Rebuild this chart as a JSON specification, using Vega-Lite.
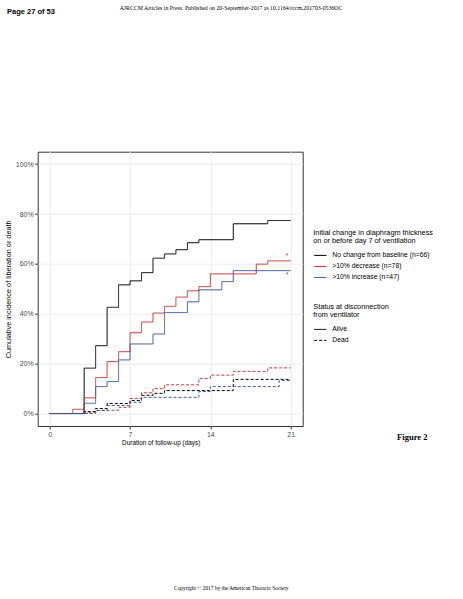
{
  "$schema": "https://vega.github.io/schema/vega-lite/v6.json",
  "width": 265,
  "height": 274.3,
  "autosize": "none",
  "padding": {"left": 37.7, "top": 151.7, "right": 160.3, "bottom": 173},
  "background": "white",
  "config": {
    "font": "Liberation Sans",
    "view": {"stroke": "#333333", "strokeWidth": 1}
  },
  "datasets": {
    "curves": [
      {"group": "No change from baseline (n=66)", "status": "Alive", "day": 0, "value": 0},
      {"group": "No change from baseline (n=66)", "status": "Alive", "day": 3, "value": 0.182},
      {"group": "No change from baseline (n=66)", "status": "Alive", "day": 4, "value": 0.272},
      {"group": "No change from baseline (n=66)", "status": "Alive", "day": 5, "value": 0.426},
      {"group": "No change from baseline (n=66)", "status": "Alive", "day": 6, "value": 0.516},
      {"group": "No change from baseline (n=66)", "status": "Alive", "day": 7, "value": 0.532},
      {"group": "No change from baseline (n=66)", "status": "Alive", "day": 8, "value": 0.565},
      {"group": "No change from baseline (n=66)", "status": "Alive", "day": 9, "value": 0.623},
      {"group": "No change from baseline (n=66)", "status": "Alive", "day": 10, "value": 0.64},
      {"group": "No change from baseline (n=66)", "status": "Alive", "day": 11, "value": 0.657},
      {"group": "No change from baseline (n=66)", "status": "Alive", "day": 12, "value": 0.685},
      {"group": "No change from baseline (n=66)", "status": "Alive", "day": 13, "value": 0.697},
      {"group": "No change from baseline (n=66)", "status": "Alive", "day": 16, "value": 0.761},
      {"group": "No change from baseline (n=66)", "status": "Alive", "day": 19, "value": 0.774},
      {"group": "No change from baseline (n=66)", "status": "Alive", "day": 21, "value": 0.774},
      {"group": ">10% decrease (n=78)", "status": "Alive", "day": 0, "value": 0},
      {"group": ">10% decrease (n=78)", "status": "Alive", "day": 2, "value": 0.017},
      {"group": ">10% decrease (n=78)", "status": "Alive", "day": 3, "value": 0.063},
      {"group": ">10% decrease (n=78)", "status": "Alive", "day": 4, "value": 0.144},
      {"group": ">10% decrease (n=78)", "status": "Alive", "day": 5, "value": 0.208},
      {"group": ">10% decrease (n=78)", "status": "Alive", "day": 6, "value": 0.248},
      {"group": ">10% decrease (n=78)", "status": "Alive", "day": 7, "value": 0.324},
      {"group": ">10% decrease (n=78)", "status": "Alive", "day": 8, "value": 0.367},
      {"group": ">10% decrease (n=78)", "status": "Alive", "day": 9, "value": 0.403},
      {"group": ">10% decrease (n=78)", "status": "Alive", "day": 10, "value": 0.43},
      {"group": ">10% decrease (n=78)", "status": "Alive", "day": 11, "value": 0.467},
      {"group": ">10% decrease (n=78)", "status": "Alive", "day": 12, "value": 0.492},
      {"group": ">10% decrease (n=78)", "status": "Alive", "day": 13, "value": 0.509},
      {"group": ">10% decrease (n=78)", "status": "Alive", "day": 14, "value": 0.56},
      {"group": ">10% decrease (n=78)", "status": "Alive", "day": 18, "value": 0.599},
      {"group": ">10% decrease (n=78)", "status": "Alive", "day": 19, "value": 0.612},
      {"group": ">10% decrease (n=78)", "status": "Alive", "day": 21, "value": 0.612},
      {"group": ">10% increase (n=47)", "status": "Alive", "day": 0, "value": 0},
      {"group": ">10% increase (n=47)", "status": "Alive", "day": 3, "value": 0.041},
      {"group": ">10% increase (n=47)", "status": "Alive", "day": 4, "value": 0.108},
      {"group": ">10% increase (n=47)", "status": "Alive", "day": 5, "value": 0.128},
      {"group": ">10% increase (n=47)", "status": "Alive", "day": 6, "value": 0.215},
      {"group": ">10% increase (n=47)", "status": "Alive", "day": 7, "value": 0.279},
      {"group": ">10% increase (n=47)", "status": "Alive", "day": 9, "value": 0.319},
      {"group": ">10% increase (n=47)", "status": "Alive", "day": 10, "value": 0.405},
      {"group": ">10% increase (n=47)", "status": "Alive", "day": 12, "value": 0.448},
      {"group": ">10% increase (n=47)", "status": "Alive", "day": 13, "value": 0.496},
      {"group": ">10% increase (n=47)", "status": "Alive", "day": 15, "value": 0.529},
      {"group": ">10% increase (n=47)", "status": "Alive", "day": 16, "value": 0.573},
      {"group": ">10% increase (n=47)", "status": "Alive", "day": 21, "value": 0.573},
      {"group": "No change from baseline (n=66)", "status": "Dead", "day": 0, "value": 0},
      {"group": "No change from baseline (n=66)", "status": "Dead", "day": 3, "value": 0.008},
      {"group": "No change from baseline (n=66)", "status": "Dead", "day": 4, "value": 0.02},
      {"group": "No change from baseline (n=66)", "status": "Dead", "day": 5, "value": 0.04},
      {"group": "No change from baseline (n=66)", "status": "Dead", "day": 7, "value": 0.052},
      {"group": "No change from baseline (n=66)", "status": "Dead", "day": 8, "value": 0.073},
      {"group": "No change from baseline (n=66)", "status": "Dead", "day": 9, "value": 0.081},
      {"group": "No change from baseline (n=66)", "status": "Dead", "day": 10, "value": 0.092},
      {"group": "No change from baseline (n=66)", "status": "Dead", "day": 16, "value": 0.137},
      {"group": "No change from baseline (n=66)", "status": "Dead", "day": 21, "value": 0.137},
      {"group": ">10% decrease (n=78)", "status": "Dead", "day": 0, "value": 0},
      {"group": ">10% decrease (n=78)", "status": "Dead", "day": 3, "value": 0.005},
      {"group": ">10% decrease (n=78)", "status": "Dead", "day": 4, "value": 0.013},
      {"group": ">10% decrease (n=78)", "status": "Dead", "day": 6, "value": 0.025},
      {"group": ">10% decrease (n=78)", "status": "Dead", "day": 7, "value": 0.06},
      {"group": ">10% decrease (n=78)", "status": "Dead", "day": 8, "value": 0.083},
      {"group": ">10% decrease (n=78)", "status": "Dead", "day": 9, "value": 0.1},
      {"group": ">10% decrease (n=78)", "status": "Dead", "day": 10, "value": 0.115},
      {"group": ">10% decrease (n=78)", "status": "Dead", "day": 13, "value": 0.141},
      {"group": ">10% decrease (n=78)", "status": "Dead", "day": 14, "value": 0.154},
      {"group": ">10% decrease (n=78)", "status": "Dead", "day": 16, "value": 0.169},
      {"group": ">10% decrease (n=78)", "status": "Dead", "day": 19, "value": 0.183},
      {"group": ">10% decrease (n=78)", "status": "Dead", "day": 21, "value": 0.183},
      {"group": ">10% increase (n=47)", "status": "Dead", "day": 0, "value": 0},
      {"group": ">10% increase (n=47)", "status": "Dead", "day": 4, "value": 0.012},
      {"group": ">10% increase (n=47)", "status": "Dead", "day": 5, "value": 0.032},
      {"group": ">10% increase (n=47)", "status": "Dead", "day": 7, "value": 0.045},
      {"group": ">10% increase (n=47)", "status": "Dead", "day": 8, "value": 0.065},
      {"group": ">10% increase (n=47)", "status": "Dead", "day": 13, "value": 0.088},
      {"group": ">10% increase (n=47)", "status": "Dead", "day": 14, "value": 0.108},
      {"group": ">10% increase (n=47)", "status": "Dead", "day": 20, "value": 0.132},
      {"group": ">10% increase (n=47)", "status": "Dead", "day": 21, "value": 0.132}
    ],
    "stars": [
      {"group": ">10% decrease (n=78)", "day": 20.7, "value": 0.633},
      {"group": ">10% increase (n=47)", "day": 20.7, "value": 0.556}
    ]
  },
  "layer": [
    {
      "data": {"name": "curves"},
      "mark": {"type": "line", "interpolate": "step-after", "strokeWidth": 1},
      "encoding": {
        "x": {
          "field": "day",
          "type": "quantitative",
          "scale": {"domain": [-1.05, 22.05], "nice": false, "zero": false},
          "axis": {
            "values": [0, 7, 14, 21],
            "domain": false,
            "gridColor": "#EBEBEB",
            "tickColor": "#333333",
            "tickSize": 3,
            "labelFontSize": 7,
            "labelColor": "#4D4D4D",
            "labelPadding": 1,
            "title": "Duration of follow-up (days)",
            "titleFontSize": 6.4,
            "titleFontWeight": "normal",
            "titleColor": "black",
            "titlePadding": 2,
            "titleX": 123
          }
        },
        "y": {
          "field": "value",
          "type": "quantitative",
          "scale": {"domain": [-0.05, 1.05], "nice": false, "zero": false},
          "axis": {
            "values": [0, 0.1, 0.2, 0.3, 0.4, 0.5, 0.6, 0.7, 0.8, 0.9, 1],
            "format": ".0%",
            "labelExpr": "round(datum.value * 10) % 2 == 0 ? datum.label : ''",
            "tickOpacity": {"condition": {"test": "round(datum.value * 10) % 2 == 0", "value": 1}, "value": 0},
            "gridColor": {"condition": {"test": "round(datum.value * 10) % 2 == 0", "value": "#EBEBEB"}, "value": "#F4F4F4"},
            "domain": false,
            "tickColor": "#333333",
            "tickSize": 3,
            "labelFontSize": 7,
            "labelColor": "#4D4D4D",
            "labelPadding": 1.5,
            "title": "Cumulative incidence of liberation or death",
            "titleFontSize": 7.3,
            "titleFontWeight": "normal",
            "titleColor": "black",
            "titlePadding": 3
          }
        },
        "color": {
          "field": "group",
          "type": "nominal",
          "scale": {
            "domain": ["No change from baseline (n=66)", ">10% decrease (n=78)", ">10% increase (n=47)"],
            "range": ["#000000", "#D03535", "#3B5B9A"]
          },
          "legend": {
            "orient": "none",
            "legendX": 275.6,
            "legendY": 77,
            "title": ["Initial change in diaphragm thickness", "on or before day 7 of ventilation"],
            "titleFontSize": 7.3,
            "titleFontWeight": "normal",
            "titleColor": "black",
            "titleLineHeight": 8.4,
            "titlePadding": 4,
            "labelFontSize": 6.8,
            "labelColor": "black",
            "labelOffset": 5,
            "symbolType": "stroke",
            "symbolSize": 150,
            "symbolStrokeWidth": 1,
            "rowPadding": 0
          }
        },
        "strokeDash": {
          "field": "status",
          "type": "nominal",
          "scale": {"domain": ["Alive", "Dead"], "range": [[1, 0], [3, 2]]},
          "legend": {
            "orient": "none",
            "legendX": 275.6,
            "legendY": 151,
            "title": ["Status at disconnection", "from ventilator"],
            "titleFontSize": 7.3,
            "titleFontWeight": "normal",
            "titleColor": "black",
            "titleLineHeight": 8.4,
            "titlePadding": 4,
            "labelFontSize": 6.8,
            "labelColor": "black",
            "labelOffset": 5,
            "symbolType": "stroke",
            "symbolSize": 150,
            "symbolStrokeWidth": 1,
            "symbolStrokeColor": "black",
            "rowPadding": -1
          }
        }
      }
    },
    {
      "data": {"name": "stars"},
      "mark": {"type": "text", "text": "*", "fontSize": 7, "baseline": "middle"},
      "encoding": {
        "x": {"field": "day", "type": "quantitative"},
        "y": {"field": "value", "type": "quantitative"},
        "color": {"field": "group", "type": "nominal", "legend": null}
      }
    },
    {
      "data": {"values": [{}]},
      "mark": {"type": "text", "text": "Page 27 of 53", "font": "Liberation Sans", "fontWeight": "bold", "fontSize": 7.5, "align": "left", "baseline": "middle", "color": "black"},
      "encoding": {
        "x": {"datum": -3.727, "type": "quantitative"},
        "y": {"datum": 1.609, "type": "quantitative"}
      }
    },
    {
      "data": {"values": [{}]},
      "mark": {"type": "text", "text": "AJRCCM Articles in Press. Published on 20-September-2017 as 10.1164/rccm.201703-0536OC", "font": "Liberation Serif", "fontSize": 5.8, "align": "center", "baseline": "middle", "color": "black"},
      "encoding": {
        "x": {"datum": 15.8, "type": "quantitative"},
        "y": {"datum": 1.628, "type": "quantitative"}
      }
    },
    {
      "data": {"values": [{}]},
      "mark": {"type": "text", "text": "Figure 2", "font": "Liberation Serif", "fontWeight": "bold", "fontSize": 8.5, "align": "center", "baseline": "middle", "color": "black"},
      "encoding": {
        "x": {"datum": 31.6, "type": "quantitative"},
        "y": {"datum": -0.0922, "type": "quantitative"}
      }
    },
    {
      "data": {"values": [{}]},
      "mark": {"type": "text", "text": "Copyright © 2017 by the American Thoracic Society", "font": "Liberation Serif", "fontSize": 5.4, "align": "center", "baseline": "middle", "color": "black"},
      "encoding": {
        "x": {"datum": 15.82, "type": "quantitative"},
        "y": {"datum": -0.6997, "type": "quantitative"}
      }
    }
  ]
}
